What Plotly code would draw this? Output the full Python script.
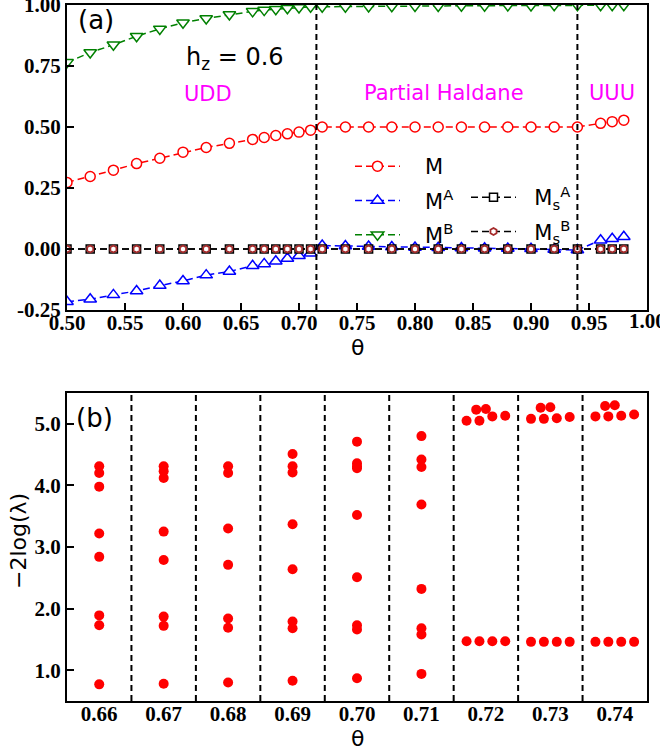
import plotly.graph_objects as go

# ---------------- Data: panel (a) ----------------
theta = [0.50, 0.52, 0.54, 0.56, 0.58, 0.60, 0.62, 0.64, 0.66, 0.67, 0.68, 0.69, 0.70, 0.71,
         0.72, 0.74, 0.76, 0.78, 0.80, 0.82, 0.84, 0.86, 0.88, 0.90, 0.92, 0.94,
         0.96, 0.97, 0.98]
M = [0.273, 0.297, 0.323, 0.350, 0.372, 0.397, 0.416, 0.433, 0.449, 0.457, 0.465, 0.472, 0.479, 0.487,
     0.500, 0.500, 0.500, 0.500, 0.500, 0.500, 0.500, 0.500, 0.500, 0.500, 0.500, 0.500,
     0.515, 0.522, 0.528]
M_A = [-0.216, -0.206, -0.188, -0.172, -0.150, -0.131, -0.107, -0.092, -0.069, -0.061, -0.050, -0.039, -0.028, -0.017,
       0.014, 0.012, 0.010, 0.008, 0.006, 0.005, 0.004, 0.003, 0.002, 0.001, -0.002, -0.004,
       0.036, 0.042, 0.050]
M_B = [0.765, 0.805, 0.837, 0.872, 0.902, 0.927, 0.945, 0.961, 0.974, 0.979, 0.983, 0.987, 0.990, 0.993,
       0.993, 0.993, 0.994, 0.995, 0.996, 0.996, 0.997, 0.997, 0.998, 0.998, 0.999, 0.999,
       0.999, 0.999, 0.999]
Ms_A = [0.0] * len(theta)
Ms_B = [0.0] * len(theta)
phase_bounds = [0.715, 0.94]

top_xticks = [0.50, 0.55, 0.60, 0.65, 0.70, 0.75, 0.80, 0.85, 0.90, 0.95, 1.00]
top_xtext = ["0.50", "0.55", "0.60", "0.65", "0.70", "0.75", "0.80", "0.85", "0.90", "0.95", "1.00"]
top_yticks = [-0.25, 0.0, 0.25, 0.50, 0.75, 1.00]
top_ytext = ["-0.25", "0.00", "0.25", "0.50", "0.75", "1.00"]

# ---------------- Data: panel (b) ----------------
es_cols = [0.66, 0.67, 0.68, 0.69, 0.70, 0.71, 0.72, 0.73, 0.74]
es_066 = [4.31, 4.20, 3.98, 3.22, 2.84, 1.89, 1.73, 0.77]
es_067 = [4.31, 4.23, 4.12, 3.25, 2.79, 1.87, 1.72, 0.78]
es_068 = [4.31, 4.20, 3.30, 2.71, 1.84, 1.69, 0.80]
es_069 = [4.51, 4.31, 4.21, 3.37, 2.64, 1.79, 1.68, 0.83]
es_070 = [4.71, 4.36, 4.31, 4.28, 3.52, 2.51, 1.73, 1.66, 0.87]
es_071 = [4.80, 4.42, 4.30, 3.69, 2.32, 1.68, 1.58, 0.94]
es_x_072 = [0.7170, 0.7185, 0.7190, 0.7200, 0.7210, 0.7230, 0.7170, 0.7190, 0.7210, 0.7230]
es_y_072 = [5.05, 5.23, 5.05, 5.24, 5.12, 5.13, 1.47, 1.47, 1.47, 1.47]
es_x_073 = [0.7270, 0.7285, 0.7290, 0.7300, 0.7310, 0.7330, 0.7270, 0.7290, 0.7310, 0.7330]
es_y_073 = [5.08, 5.26, 5.08, 5.27, 5.09, 5.11, 1.46, 1.46, 1.46, 1.46]
es_x_074 = [0.7370, 0.7385, 0.7390, 0.7400, 0.7410, 0.7430, 0.7370, 0.7390, 0.7410, 0.7430]
es_y_074 = [5.12, 5.29, 5.12, 5.30, 5.13, 5.15, 1.46, 1.46, 1.46, 1.46]

bot_xtext = ["0.66", "0.67", "0.68", "0.69", "0.70", "0.71", "0.72", "0.73", "0.74"]
bot_yticks = [1.0, 2.0, 3.0, 4.0, 5.0]
bot_ytext = ["1.0", "2.0", "3.0", "4.0", "5.0"]

# ---------------- Figure ----------------
W, H = 660, 753
fig = go.Figure()

dash = "7px,4px"
common = dict(mode="lines+markers", xaxis="x", yaxis="y", cliponaxis=True)
pad = "\u00a0\u00a0\u00a0"

fig.add_trace(go.Scatter(x=theta, y=M, name=pad + "M", legendgroup="g1",
                         line=dict(color="#ff0000", width=1.5, dash=dash),
                         marker=dict(symbol="circle", size=10, color="white",
                                     line=dict(color="#ff0000", width=1.5)), **common))
fig.add_trace(go.Scatter(x=theta, y=M_A, name=pad + "M<sup>A</sup>", legendgroup="g2",
                         line=dict(color="#0000ff", width=1.5, dash=dash),
                         marker=dict(symbol="triangle-up", size=11, color="white",
                                     line=dict(color="#0000ff", width=1.5)), **common))
fig.add_trace(go.Scatter(x=theta, y=M_B, name=pad + "M<sup>B</sup>", legendgroup="g3",
                         line=dict(color="#008000", width=1.5, dash=dash),
                         marker=dict(symbol="triangle-down", size=11, color="white",
                                     line=dict(color="#008000", width=1.5)), **common))
fig.add_trace(go.Scatter(x=theta, y=Ms_A, name="\u00a0\u00a0M<sub>s</sub><sup>A</sup>", legend="legend2", legendgroup="g4",
                         line=dict(color="black", width=1.5, dash=dash),
                         marker=dict(symbol="square", size=8, color="white",
                                     line=dict(color="black", width=1.5)), **common))
fig.add_trace(go.Scatter(x=theta, y=Ms_B, name="\u00a0\u00a0M<sub>s</sub><sup>B</sup>", legend="legend2", legendgroup="g5",
                         line=dict(color="black", width=1.5, dash=dash),
                         marker=dict(symbol="hexagon", size=7, color="white",
                                     line=dict(color="#a52a2a", width=1.8)), **common))

# panel (b) points
single_cols = [es_066, es_067, es_068, es_069, es_070, es_071]
bx, by = [], []
for c, vals in zip(es_cols[:6], single_cols):
    bx += [c] * len(vals)
    by += vals
bx += es_x_072 + es_x_073 + es_x_074
by += es_y_072 + es_y_073 + es_y_074
fig.add_trace(go.Scatter(x=bx, y=by, mode="markers", xaxis="x2", yaxis="y2", showlegend=False,
                         marker=dict(symbol="circle", size=10, color="#ff0000")))

# dashed lines
shapes = []
for b in phase_bounds:
    shapes.append(dict(type="line", xref="x", yref="y domain", x0=b, x1=b, y0=0, y1=1,
                       line=dict(color="black", width=2, dash="6px,4px")))
es_bounds = [(a + b) / 2 for a, b in zip(es_cols[:-1], es_cols[1:])]
for b in es_bounds:
    shapes.append(dict(type="line", xref="x2", yref="y2 domain", x0=b, x1=b, y0=0, y1=1,
                       line=dict(color="black", width=2, dash="6px,4px")))

tickfont = dict(family="Liberation Serif", size=21, color="black", weight="bold")
axis_common = dict(showline=True, mirror=True, linecolor="black", linewidth=2,
                   ticks="inside", ticklen=7, tickwidth=1.5, tickcolor="black",
                   showgrid=False, zeroline=False, automargin=False, tickfont=tickfont)

xd = [67 / W, 647 / W]
fig.update_layout(
    width=W, height=H, template="none",
    margin=dict(l=0, r=0, t=0, b=0),
    paper_bgcolor="white", plot_bgcolor="white",
    xaxis=dict(domain=xd, range=[0.5, 1.0], tickvals=top_xticks[:-1], ticktext=top_xtext[:-1],
               anchor="y", ticklabelstandoff=-7, **axis_common),
    yaxis=dict(domain=[1 - 310 / H, 1 - 5 / H], range=[-0.25, 1.0], tickvals=top_yticks[:-1],
               ticktext=top_ytext[:-1], anchor="x", **axis_common),
    xaxis2=dict(domain=xd, range=[0.655, 0.745], tickvals=es_cols, ticktext=bot_xtext,
                anchor="y2", ticklabelstandoff=-7, **{**axis_common, "ticks": ""}),
    yaxis2=dict(domain=[1 - 701 / H, 1 - 393 / H], range=[0.5, 5.5], tickvals=bot_yticks,
                ticktext=bot_ytext, anchor="x2", **axis_common),
    legend=dict(x=350 / W, y=1 - 146 / H, xanchor="left", yanchor="top",
                bgcolor="rgba(0,0,0,0)", itemwidth=45, tracegroupgap=4,
                font=dict(family="DejaVu Sans", size=21, color="black")),
    legend2=dict(x=466 / W, y=1 - 177 / H, xanchor="left", yanchor="top",
                 bgcolor="rgba(0,0,0,0)", itemwidth=45, tracegroupgap=4,
                 font=dict(family="DejaVu Sans", size=21, color="black")),
    shapes=shapes,
)

sans = "DejaVu Sans"
ann = [
    # end-of-range tick labels (plotly hides labels that spill past the page edge)
    dict(text=top_ytext[-1], xref="x domain", yref="y", x=0, y=top_yticks[-1], xanchor="right",
         yanchor="middle", xshift=-4, showarrow=False, font=tickfont),
    dict(text=top_xtext[-1], xref="x", yref="y domain", x=top_xticks[-1], y=0, xanchor="center",
         yanchor="top", yshift=3, showarrow=False, font=tickfont),
    dict(text="(a)", xref="x domain", yref="y domain", x=0.015, y=0.95, xanchor="left",
         yanchor="middle", showarrow=False, font=dict(family=sans, size=26, color="black")),
    dict(text="h<sub>z</sub> = 0.6", xref="x", yref="y", x=0.601, y=0.78, xanchor="left",
         yanchor="middle", showarrow=False, font=dict(family=sans, size=24, color="black")),
    dict(text="UDD", xref="x", yref="y", x=0.6216, y=0.635, showarrow=False,
         xanchor="center", yanchor="middle", font=dict(family=sans, size=21, color="#ff00ff")),
    dict(text="Partial Haldane", xref="x", yref="y", x=0.8254, y=0.64, showarrow=False,
         xanchor="center", yanchor="middle", font=dict(family=sans, size=21, color="#ff00ff")),
    dict(text="UUU", xref="x", yref="y", x=0.970, y=0.64, showarrow=False,
         xanchor="center", yanchor="middle", font=dict(family=sans, size=21, color="#ff00ff")),
    dict(text="(b)", xref="x2 domain", yref="y2 domain", x=0.012, y=0.92, xanchor="left",
         yanchor="middle", showarrow=False, font=dict(family=sans, size=26, color="black")),
    dict(text="θ", xref="paper", yref="paper", x=357 / W, y=1 - 347 / H, showarrow=False,
         xanchor="center", yanchor="middle", font=dict(family=sans, size=22, color="black")),
    dict(text="θ", xref="paper", yref="paper", x=357 / W, y=1 - 738 / H, showarrow=False,
         xanchor="center", yanchor="middle", font=dict(family=sans, size=22, color="black")),
    dict(text="−2log(λ)", xref="paper", yref="paper", x=18 / W, y=1 - 541 / H, textangle=-90,
         xanchor="center", yanchor="middle", showarrow=False,
         font=dict(family=sans, size=22, color="black")),
]
fig.update_layout(annotations=ann)

fig.write_html("out.html")
